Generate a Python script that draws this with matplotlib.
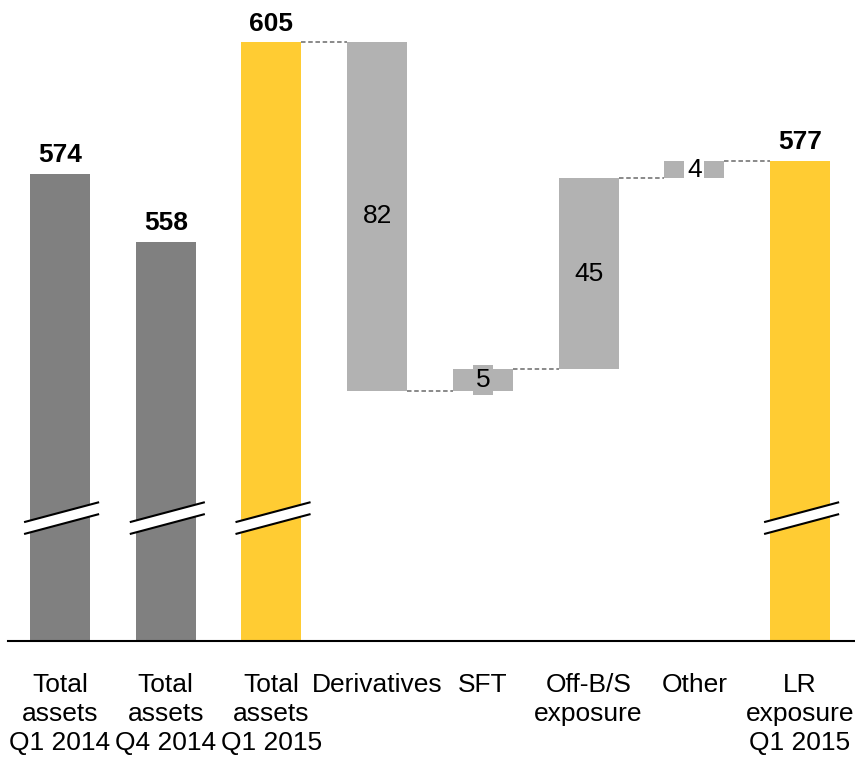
import matplotlib
matplotlib.use("Agg")
import matplotlib.pyplot as plt
from matplotlib.patches import Polygon
import numpy as np

plt.rcParams['font.family'] = ['Liberation Sans', 'DejaVu Sans']

categories = ["Total\nassets\nQ1 2014", "Total\nassets\nQ4 2014", "Total\nassets\nQ1 2015",
              "Derivatives", "SFT", "Off-B/S\nexposure", "Other", "LR\nexposure\nQ1 2015"]
total_values = [574, 558, 605]          # first three totals
changes = [-82, 5, 45, 4]               # Derivatives, SFT, Off-B/S exposure, Other
final_value = 577                       # LR exposure Q1 2015
change_labels = ["82", "5", "45", "4"]

DARK = "#808080"
YELLOW = "#FFCC33"
LIGHT = "#B2B2B2"
FLOOR = 464
FS = 19

fig = plt.figure(figsize=(8.55, 7.61), dpi=100)
ax = fig.add_axes([8/855, 120/761, 847/855, 641/761])
ax.set_xlim(-0.492, 7.52)
ax.set_ylim(FLOOR, 615)

w = 0.567
x = np.arange(len(categories))

# totals
tot_x = [0, 1, 2, 7]
tot_v = total_values + [final_value]
tot_c = [DARK, DARK, YELLOW, YELLOW]
for xi, v, c in zip(tot_x, tot_v, tot_c):
    ax.bar(xi, v - FLOOR, bottom=FLOOR, width=w, color=c, zorder=2)
    ax.annotate(str(v), (xi, v), xytext=(0, 8.6), textcoords='offset points',
                ha='center', va='baseline', fontsize=FS, fontweight='bold')

# waterfall changes
level = total_values[-1]
prev_right = 2 + w / 2
box_faces = [None, LIGHT, None, "white"]
for i, (d, lab) in enumerate(zip(changes, change_labels)):
    xi = 3 + i
    new = level + d
    lo, hi = min(level, new), max(level, new)
    ax.bar(xi, hi - lo, bottom=lo, width=w, color=LIGHT, zorder=2)
    ax.plot([prev_right, xi - w / 2], [level, level], ls=(0, (2.5, 1.5)), color=DARK,
            lw=1.3, zorder=1)
    kw = {}
    if box_faces[i] is not None:
        kw['bbox'] = dict(boxstyle='square,pad=0.1', facecolor=box_faces[i], edgecolor='none')
    ax.text(xi, (lo + hi) / 2, lab, ha='center', va='center', fontsize=FS, zorder=3, **kw)
    level = new
    prev_right = xi + w / 2
ax.plot([prev_right, 7 - w / 2], [level, level], ls=(0, (2.5, 1.5)), color=DARK, lw=1.3, zorder=1)

# axis break marks
for xi in tot_x:
    xl, xr = xi - 0.34, xi + 0.37
    poly = Polygon([(xl, 489.2), (xr, 493.9), (xr, 496.7), (xl, 492.0)], closed=True,
                   facecolor='white', edgecolor='none', zorder=4)
    ax.add_patch(poly)
    ax.plot([xl, xr], [492.0, 496.7], color='black', lw=1.5, zorder=5, solid_capstyle='butt')
    ax.plot([xl, xr], [489.2, 493.9], color='black', lw=1.5, zorder=5, solid_capstyle='butt')

# category labels
for xi, lab in zip(x, categories):
    for j, line in enumerate(lab.split("\n")):
        ax.annotate(line, (xi, FLOOR), xytext=(0, -(51 + 29 * j) * 0.72), textcoords='offset points',
                    ha='center', va='baseline', fontsize=FS, annotation_clip=False)

for s in ['top', 'left', 'right']:
    ax.spines[s].set_visible(False)
ax.spines['bottom'].set_linewidth(1.5)
ax.spines['bottom'].set_color('black')
ax.set_xticks([])
ax.set_yticks([])

fig.savefig("out.png", dpi=100)
